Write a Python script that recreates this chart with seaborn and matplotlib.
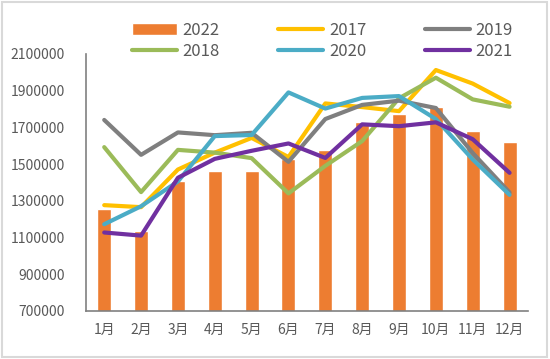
import numpy as np
import pandas as pd
import matplotlib
matplotlib.use("Agg")
import matplotlib.pyplot as plt
import seaborn as sns
from matplotlib.patches import Rectangle

# monthly values
months = ["1月", "2月", "3月", "4月", "5月", "6月", "7月", "8月", "9月", "10月", "11月", "12月"]
y2022 = [1255000, 1135000, 1410000, 1462000, 1462000, 1528000, 1577000, 1728000, 1772000, 1812000, 1682000, 1618000]
y2017 = [1276000, 1265000, 1470000, 1562000, 1642000, 1538000, 1830000, 1810000, 1788000, 2012000, 1938000, 1832000]
y2018 = [1592000, 1347000, 1577000, 1562000, 1532000, 1340000, 1490000, 1625000, 1858000, 1970000, 1852000, 1812000]
y2019 = [1740000, 1550000, 1672000, 1657000, 1670000, 1512000, 1745000, 1822000, 1845000, 1805000, 1560000, 1345000]
y2020 = [1172000, 1270000, 1405000, 1652000, 1658000, 1890000, 1802000, 1860000, 1870000, 1745000, 1525000, 1332000]
y2021 = [1127000, 1110000, 1425000, 1528000, 1572000, 1612000, 1533000, 1716000, 1706000, 1727000, 1635000, 1452000]

line_series = [("2017", y2017, "#FFC000"),
               ("2018", y2018, "#9BBB59"),
               ("2019", y2019, "#7F7F7F"),
               ("2020", y2020, "#4BACC6"),
               ("2021", y2021, "#7030A0")]

sns.set_style("white")
plt.rcParams["font.family"] = ["Noto Sans CJK SC", "DejaVu Sans"]

fig = plt.figure(figsize=(5.5, 3.59), dpi=100)
ax = fig.add_axes([0.156, 0.134, 0.804, 0.716])

df = pd.DataFrame({"pos": np.arange(len(months)), "month": months, "2022": y2022})
sns.barplot(data=df, x="pos", y="2022", color="#ED7D31", width=0.38,
            saturation=1, ax=ax, label="2022", native_scale=True)

for name, vals, col in line_series:
    d = pd.DataFrame({"pos": np.arange(len(months)), "v": vals})
    sns.lineplot(data=d, x="pos", y="v", color=col, linewidth=3, ax=ax,
                 label=name, solid_capstyle="round")

ax.set_xlim(-0.5, len(months) - 0.5)
ax.set_ylim(700000, 2100000)
ax.set_yticks(np.arange(700000, 2100001, 200000))
ax.set_yticklabels([str(v) for v in range(700000, 2100001, 200000)])
ax.set_xticks(np.arange(len(months)))
ax.set_xticklabels(months)
ax.set_xlabel("")
ax.set_ylabel("")

for s in ["top", "right"]:
    ax.spines[s].set_visible(False)
for s in ["left", "bottom"]:
    ax.spines[s].set_color("#808080")
    ax.spines[s].set_linewidth(1.2)
ax.tick_params(axis="y", length=4, color="#808080", labelsize=10, labelcolor="#595959", pad=11)
ax.tick_params(axis="x", length=0, labelsize=10, labelcolor="#595959", pad=9)

# legend order so that ncol=3 fills rows like the reference
handles, labels = ax.get_legend_handles_labels()
lut = dict(zip(labels, handles))
order = ["2022", "2018", "2017", "2020", "2019", "2021"]
ax.legend([lut[k] for k in order], order, ncol=3, frameon=False,
          loc="center", bbox_to_anchor=(0.535, 1.05), fontsize=12,
          handlelength=2.7, handletextpad=0.35, columnspacing=3.5,
          labelspacing=0.25, labelcolor="#595959")

fig.add_artist(Rectangle((0.004, 0.006), 0.99, 0.988, transform=fig.transFigure,
                         fill=False, ec="#d9d9d9", lw=1.5))

fig.savefig("out.png", dpi=100)
